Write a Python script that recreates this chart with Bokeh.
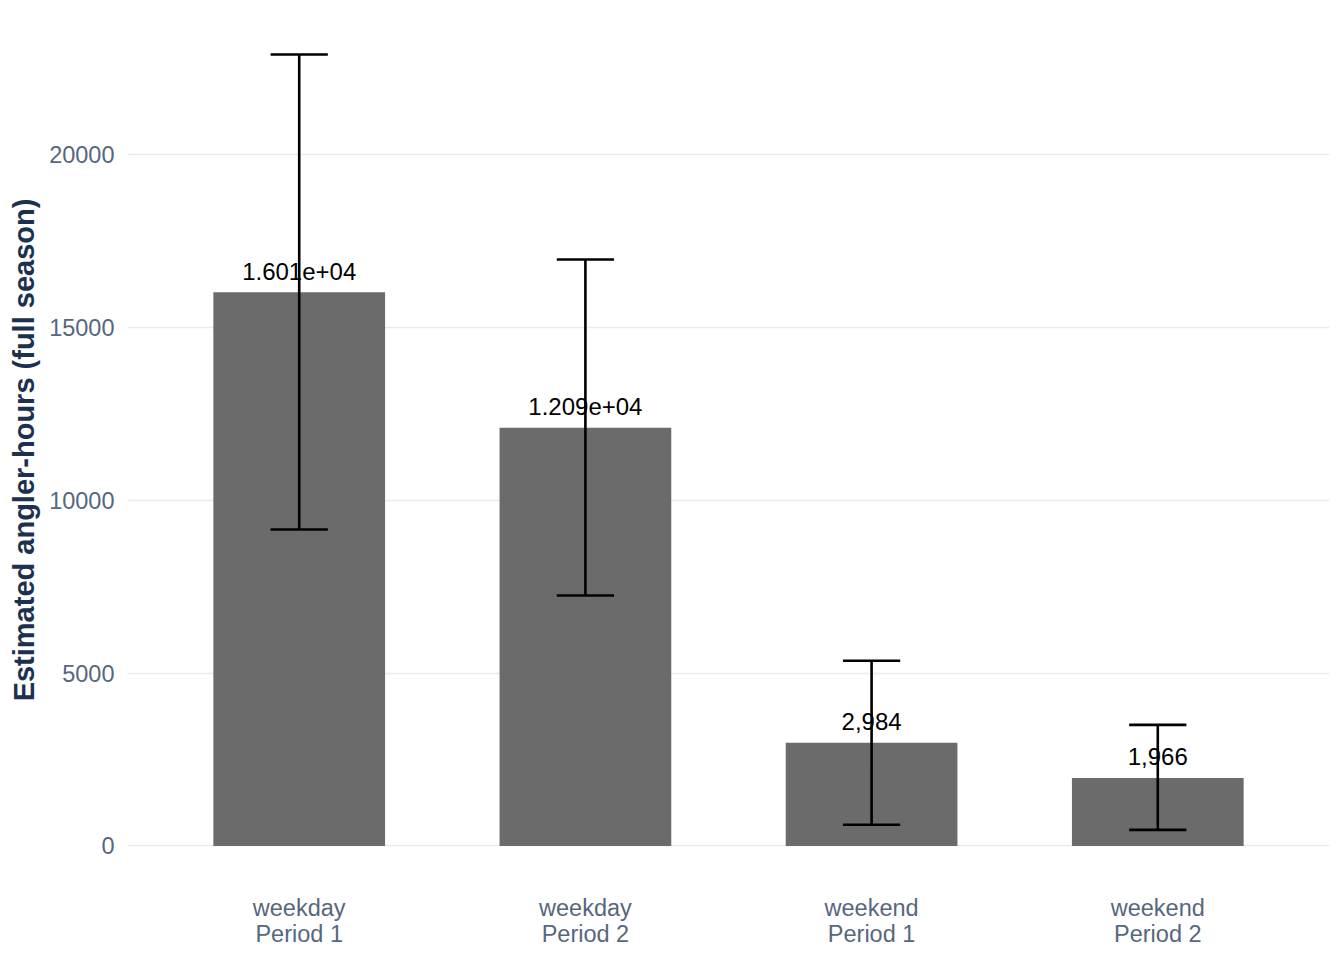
from bokeh.plotting import figure
from bokeh.models import Range1d, FixedTicker, ColumnDataSource
from bokeh.core.properties import value
from bokeh.embed import file_html
from bokeh.resources import INLINE

categories = ["weekday\nPeriod 1", "weekday\nPeriod 2", "weekend\nPeriod 1", "weekend\nPeriod 2"]
estimates = [16010, 12090, 2984, 1966]
lower = [9150, 7240, 610, 465]
upper = [22890, 16960, 5355, 3500]
bar_labels = ["1.601e+04", "1.209e+04", "2,984", "1,966"]
y_ticks = [0, 5000, 10000, 15000, 20000]

xs = [i + 1 for i in range(len(categories))]
src = ColumnDataSource(dict(
    x=xs, top=estimates, lo=lower, hi=upper, lab=bar_labels,
    xl=[x - 0.1 for x in xs], xr=[x + 0.1 for x in xs],
))

FONT = "Liberation Sans"
p = figure(width=1344, height=960, output_backend="svg", toolbar_location=None,
           x_range=Range1d(0.4, 4.6), y_range=Range1d(-1145, 24045),
           min_border_left=127, min_border_right=15, min_border_top=14, min_border_bottom=75)
p.outline_line_color = None
p.background_fill_color = "white"
p.border_fill_color = "white"

p.vbar(x="x", top="top", bottom=0, width=0.6, source=src, fill_color="#6b6b6b", line_color=None)
p.text(x="x", y="top", text="lab", source=src, text_align="center", text_baseline="alphabetic",
       y_offset=-21, text_font=value(FONT), text_font_size="24px", text_color="black")
p.segment(x0="x", y0="lo", x1="x", y1="hi", source=src, line_color="black", line_width=2.6)
p.segment(x0="xl", y0="hi", x1="xr", y1="hi", source=src, line_color="black", line_width=2.6)
p.segment(x0="xl", y0="lo", x1="xr", y1="lo", source=src, line_color="black", line_width=2.6)

p.xgrid.grid_line_color = None
p.ygrid.grid_line_color = "#e8ebef"
p.ygrid.grid_line_width = 1.3

p.yaxis.ticker = FixedTicker(ticks=y_ticks)
p.xaxis.ticker = FixedTicker(ticks=xs)
p.xaxis.major_label_overrides = {x: c for x, c in zip(xs, categories)}

for ax in (p.xaxis[0], p.yaxis[0]):
    ax.axis_line_color = None
    ax.major_tick_line_color = None
    ax.minor_tick_line_color = None
    ax.major_label_text_font = FONT
    ax.major_label_text_font_size = "23.5px"
    ax.major_label_text_color = "#56677e"

p.xaxis.major_label_standoff = 3
p.xaxis.major_label_text_line_height = 1.0
p.yaxis.major_label_standoff = 7
p.yaxis.axis_label = "Estimated angler-hours (full season)"
p.yaxis.axis_label_text_font = FONT
p.yaxis.axis_label_text_font_size = "29px"
p.yaxis.axis_label_text_font_style = "bold"
p.yaxis.axis_label_text_color = "#1c3150"
p.yaxis.axis_label_standoff = 6

open("out.html", "w").write(file_html(p, INLINE))
